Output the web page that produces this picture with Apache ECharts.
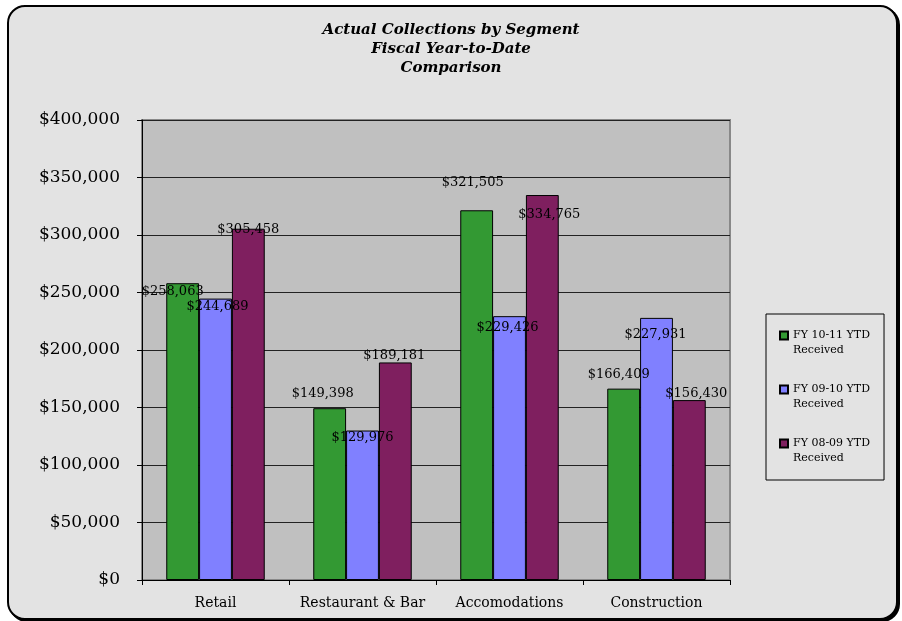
<!DOCTYPE html>
<html>
<head>
<meta charset="utf-8">
<script src="https://cdn.jsdelivr.net/npm/echarts@6/dist/echarts.min.js"></script>
<style>
  html, body { margin: 0; padding: 0; background: #fff; }
  .frame {
    position: absolute;
    left: 7px; top: 5px;
    width: 887px; height: 611px;
    border: 2px solid #000;
    border-radius: 18px;
    background: #e3e3e3;
    box-shadow: 2px 2px 0 #000;
  }
  #chart { position: absolute; left: 0; top: 0; width: 902px; height: 621px; }
</style>
</head>
<body>
<div class="frame"></div>
<div id="chart"></div>
<script>
const categories = ['Retail', 'Restaurant & Bar', 'Accomodations', 'Construction'];
const fy1011 = [258063, 149398, 321505, 166409];
const fy0910 = [244689, 129976, 229426, 227931];
const fy0809 = [305458, 189181, 334765, 156430];
const seriesNames = ['FY 10-11 YTD\nReceived', 'FY 09-10 YTD\nReceived', 'FY 08-09 YTD\nReceived'];
const colors = ['#339933', '#8080ff', '#7f1f5f'];

// label nudges, to mimic where Excel dropped the labels
const labelOffsets = [
  [[-10, 15], [-7, -8], [-4, -21], [-5, -8]],
  [[2, 15], [0, 14], [-2, 18], [-1, 23]],
  [[0, 7], [-1, 0], [7, 26], [7, 0]]
];

const font = 'DejaVu Serif';
const money = v => '$' + v.toLocaleString('en-US');

const chart = echarts.init(document.getElementById('chart'));

function makeSeries(name, values, color, idx) {
  return {
    name: name,
    type: 'bar',
    barGap: 0,
    barCategoryGap: '33%',
    itemStyle: { color: color, borderColor: '#000', borderWidth: 1 },
    data: values.map((v, i) => ({
      value: v,
      label: { offset: labelOffsets[idx][i] }
    })),
    label: {
      show: true,
      position: 'top',
      distance: 0,
      color: '#000',
      fontFamily: font,
      fontSize: 13,
      formatter: p => money(p.value)
    }
  };
}

chart.setOption({
  backgroundColor: 'transparent',
  animation: false,
  title: {
    text: 'Actual Collections by Segment\nFiscal Year-to-Date\nComparison',
    left: 'center',
    top: 16,
    textStyle: {
      fontFamily: font,
      fontSize: 15,
      fontStyle: 'italic',
      fontWeight: 'bold',
      lineHeight: 19,
      color: '#000'
    }
  },
  legend: {
    orient: 'vertical',
    left: 766,
    top: 314,
    padding: [14, 14, 14, 13],
    itemGap: 24,
    itemWidth: 8,
    itemHeight: 23,
    icon: 'path://M0,0h8v8h-8z M0,23',
    backgroundColor: 'transparent',
    borderColor: '#000',
    borderWidth: 1,
    textStyle: { fontFamily: font, fontSize: 11, lineHeight: 15, color: '#000' },
    data: seriesNames
  },
  grid: {
    left: 142,
    right: 172,
    top: 120,
    bottom: 41,
    show: true,
    backgroundColor: '#c0c0c0',
    borderColor: '#888',
    borderWidth: 2
  },
  xAxis: {
    type: 'category',
    data: categories,
    axisLine: { lineStyle: { color: '#000', width: 1 } },
    axisTick: { show: true, interval: 0, length: 5, lineStyle: { color: '#000' } },
    axisLabel: { color: '#000', fontFamily: font, fontSize: 14, margin: 16, interval: 0 }
  },
  yAxis: {
    type: 'value',
    min: 0,
    max: 400000,
    interval: 50000,
    axisLine: { show: true, lineStyle: { color: '#000', width: 1 } },
    axisTick: { show: true, length: 5, lineStyle: { color: '#000' } },
    splitLine: { lineStyle: { color: '#222', width: 1 } },
    axisLabel: { color: '#000', fontFamily: font, fontSize: 17, margin: 22, formatter: money }
  },
  series: [
    makeSeries(seriesNames[0], fy1011, colors[0], 0),
    makeSeries(seriesNames[1], fy0910, colors[1], 1),
    makeSeries(seriesNames[2], fy0809, colors[2], 2)
  ]
});
</script>
</body>
</html>
